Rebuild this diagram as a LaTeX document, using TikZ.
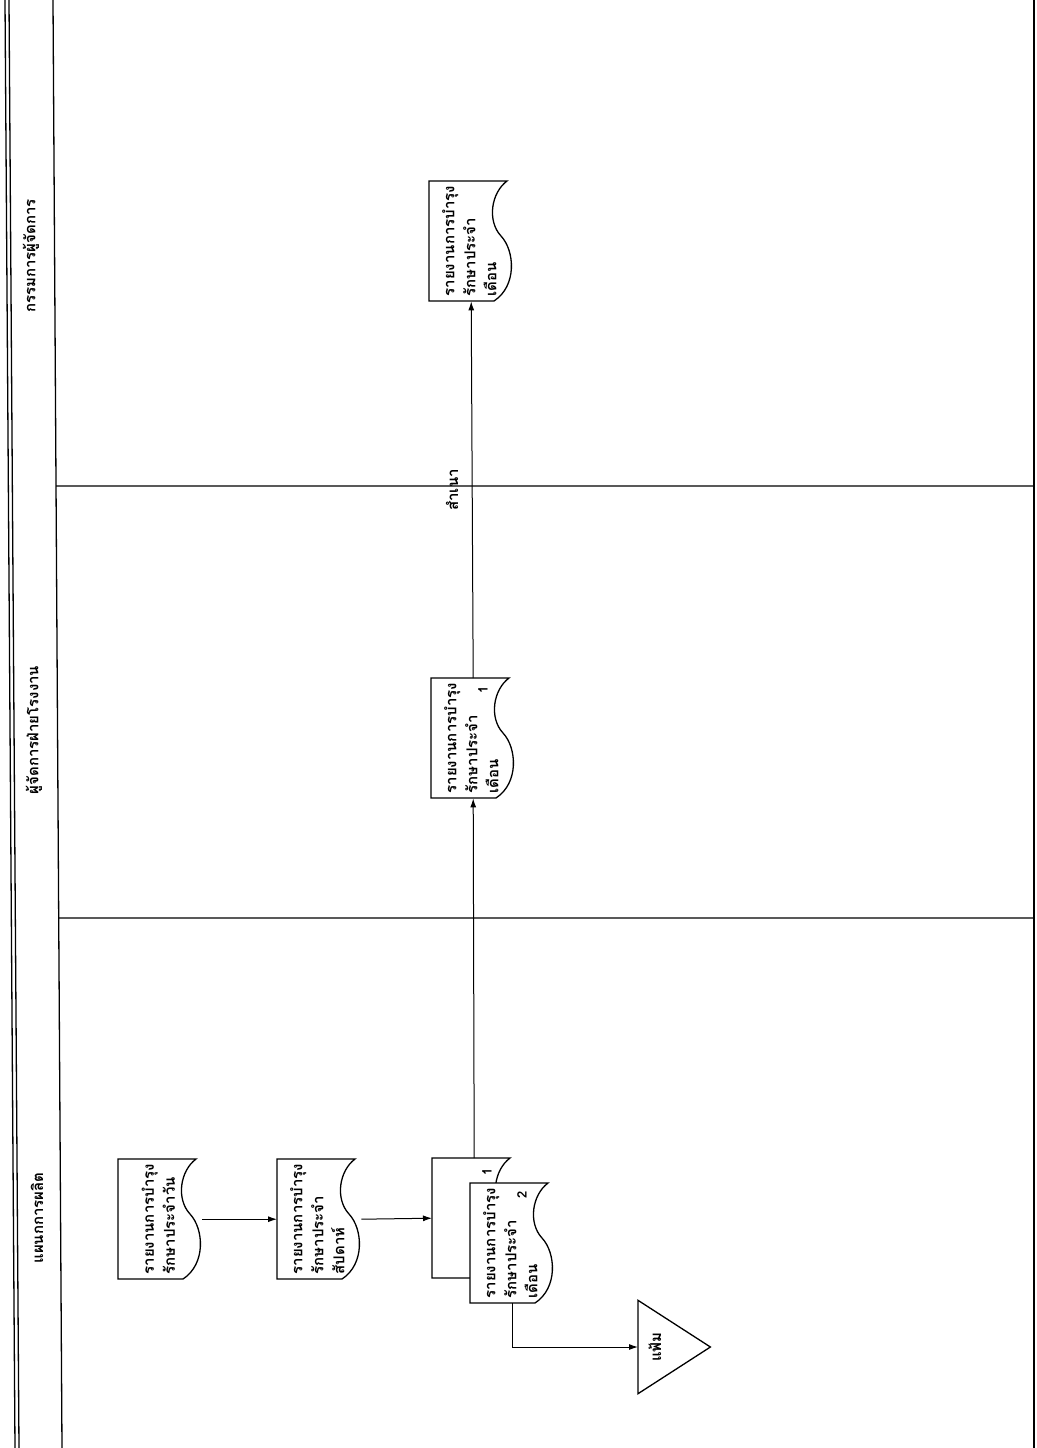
\documentclass[tikz,border=0pt]{standalone}
\usepackage{fontspec}
\usepackage{graphicx}
\setmainfont[Script=Thai]{Loma}
\usetikzlibrary{arrows.meta,backgrounds,calc}
\newcommand\doctext[1]{\rotatebox{90}{\fontsize{15}{21}\selectfont\bfseries\begin{tabular}{@{}l@{}}#1\end{tabular}}}
\newcommand\docoutline[1]{\begin{scope}[shift={(#1.north west)}]
 \draw[docline] (0,0) -- (78,0) .. controls (62,12) and (58,40) .. (72,55) .. controls (86,70) and (88,105) .. (65,120) -- (0,120) -- cycle;
\end{scope}}
\begin{document}
\begin{tikzpicture}[x=1pt,y=-1pt,
  lane/.style={line width=1.3pt},
  docline/.style={line width=1.3pt, fill=white},
  docnode/.style={rectangle, inner sep=0pt, minimum width=84pt, minimum height=120pt, anchor=north west},
  flow/.style={line width=1pt, -{Latex[length=9pt,width=6pt]}},
  lanelabel/.style={rotate=90, inner sep=1pt, font=\fontsize{15}{18}\selectfont\bfseries},
  numlbl/.style={rotate=90, inner sep=1pt, font=\fontsize{13}{15}\selectfont\bfseries}]
\useasboundingbox (0,0) rectangle (1036,1448);
% swimlanes
\draw[lane] (5,0) -- (15,1448);
\draw[lane] (9,0) -- (19,1448);
\draw[lane] (53,0) -- (62,1448);
\draw[lane] (1034,0) -- (1034,1448);
\coordinate (lt) at (53,0);
\coordinate (lb) at (62,1448);
\draw[lane] ($(lt)!0.3356!(lb)$) -- (1034,486);
\draw[lane] ($(lt)!0.634!(lb)$) -- (1034,918);
% lane headers
\node[lanelabel] (h1) at (37,1218) {แผนกการผลิต};
\node[lanelabel] (h2) at (34,730) {ผู้จัดการฝ่ายโรงงาน};
\node[lanelabel] (h3) at (31,256) {กรรมการผู้จัดการ};
% documents
\node[docnode] (d1) at (118,1159) {\doctext{รายงานการบำรุง\\รักษาประจำวัน}};
\node[docnode] (d2) at (277,1159) {\doctext{รายงานการบำรุง\\รักษาประจำ\\สัปดาห์}};
\node[docnode] (d3b) at (432,1158) {};
\node[docnode] (d3f) at (470,1183) {\doctext{รายงานการบำรุง\\รักษาประจำ\\เดือน}};
\node[docnode] (d4) at (431,678) {\doctext{รายงานการบำรุง\\รักษาประจำ\\เดือน}};
\node[docnode] (d5) at (429,181) {\doctext{รายงานการบำรุง\\รักษาประจำ\\เดือน}};
\node[numlbl] (n3b) at (487,1172) {1};
\node[numlbl] (n3f) at (522,1195) {2};
\node[numlbl] (n4) at (483,690) {1};
% file triangle
\node[rectangle, inner sep=0pt, minimum width=72pt, minimum height=93pt, anchor=west] (tri) at (638,1347) {};
\node[lanelabel] (trilbl) at (655,1347) {แฟ้ม};
% copy label
\node[lanelabel] (copylbl) at (452,490) {สำเนา};
% outlines behind the texts
\begin{pgfonlayer}{background}
\fill[white] (0,0) rectangle (1036,1448);
\docoutline{d1}
\docoutline{d2}
\docoutline{d3b}
\docoutline{d3f}
\docoutline{d4}
\docoutline{d5}
\draw[docline] (tri.north west) -- (tri.east) -- (tri.south west) -- cycle;
\end{pgfonlayer}
% connectors
\draw[flow] (d1.east) -- (d2.west);
\draw[flow] (d2.east) -- (d3b.west);
\draw[flow] (d3b.north) -- (d4.south);
\draw[flow] (d4.north) -- (d5.south);
\draw[flow] (d3f.south) |- (tri.west);
\end{tikzpicture}
\end{document}
